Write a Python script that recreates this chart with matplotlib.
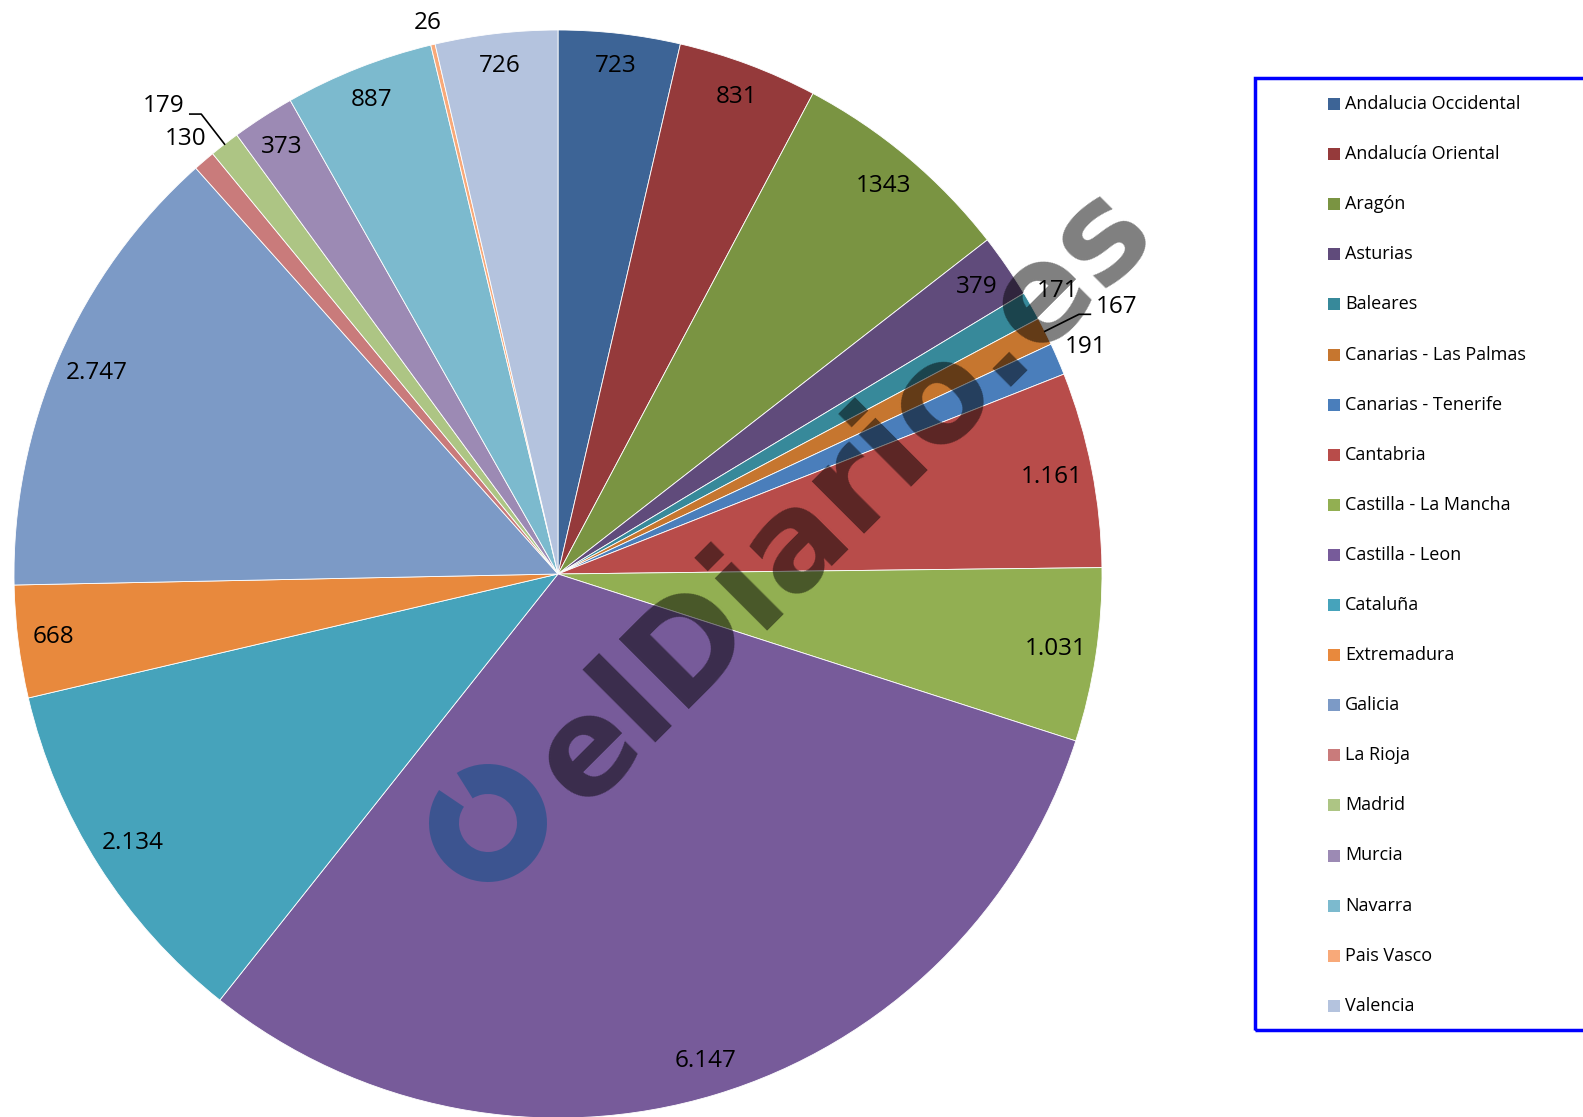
import numpy as np
import matplotlib
matplotlib.use("Agg")
import matplotlib.pyplot as plt
from matplotlib.patches import Rectangle, Wedge

# data
regions = ["Andalucia Occidental", "Andalucía Oriental", "Aragón", "Asturias",
           "Baleares", "Canarias - Las Palmas", "Canarias - Tenerife", "Cantabria",
           "Castilla - La Mancha", "Castilla - Leon", "Cataluña", "Extremadura",
           "Galicia", "La Rioja", "Madrid", "Murcia", "Navarra", "Pais Vasco",
           "Valencia"]
values = [723, 831, 1343, 379, 171, 167, 191, 1161, 1031, 6147, 2134, 668,
          2747, 130, 179, 373, 887, 26, 726]
value_labels = ["723", "831", "1343", "379", "171", "167", "191", "1.161",
                "1.031", "6.147", "2.134", "668", "2.747", "130", "179", "373",
                "887", "26", "726"]
colors = ["#3D6496", "#953A3B", "#7A9442", "#604B7B", "#37899A", "#C6762F",
          "#4A7EBB", "#B84C4A", "#92AF52", "#775B9A", "#46A3BB", "#E8893D",
          "#7C9AC6", "#C97B7B", "#ADC584", "#9C8AB4", "#7CBACE", "#F8A979",
          "#B4C3DE"]

# slices labelled outside the pie, and which of those get a leader line
outside = {"Baleares", "Canarias - Las Palmas", "Canarias - Tenerife",
           "La Rioja", "Madrid", "Pais Vasco"}
leader = {"Canarias - Las Palmas", "Madrid"}

W, H = 1583, 1117
FONT = "Open Sans"
LBL = 17.5
fig = plt.figure(figsize=(W / 100, H / 100), dpi=100)
fig.patch.set_facecolor("white")

# pie axes: center / radius in pixels, image coords
cx, cy, R = 558, 574, 544
ax = fig.add_axes([(cx - R) / W, (H - cy - R) / H, 2 * R / W, 2 * R / H])
wedges, _ = ax.pie(values, colors=colors, startangle=90, counterclock=False,
                   radius=1, wedgeprops=dict(edgecolor="white", linewidth=0.6))
ax.set_xlim(-1, 1)
ax.set_ylim(-1, 1)
ax.axis("off")

for w, name, lab in zip(wedges, regions, value_labels):
    th = np.deg2rad((w.theta1 + w.theta2) / 2)
    c, s = np.cos(th), np.sin(th)
    # rough half-extent of the label box along the radius, in px
    half = abs(c) * 6.5 * len(lab) + abs(s) * 11
    if name in leader:
        k = (1.07 * c, 1.07 * s)
        d = 1 if c > 0 else -1
        end = (k[0] + 0.021 * d, k[1])
        ax.plot([c, k[0], end[0]], [s, k[1], end[1]], color="black",
                lw=1.2, clip_on=False)
        ax.text(end[0] + 0.01 * d, end[1] + 0.014, lab,
                ha="left" if d > 0 else "right", va="center",
                fontsize=LBL, family=FONT, clip_on=False)
    elif name in outside:
        r = 1 + (8 + half) / R
        ax.text(r * c, r * s, lab, ha="center", va="center",
                fontsize=LBL, family=FONT, clip_on=False)
    else:
        r = 1 - (27.5 + 0.4 * half) / R
        ax.text(r * c, r * s, lab, ha="center", va="center",
                fontsize=LBL, family=FONT)

# legend box
fig.add_artist(Rectangle((1255 / W, (H - 1030) / H), (W - 1255 + 20) / W,
                         (1030 - 78) / H, transform=fig.transFigure, fill=False,
                         edgecolor="#0000FF", lw=2.5, clip_on=False))
for i, (name, col) in enumerate(zip(regions, colors)):
    y = 104 + i * 50.1
    fig.add_artist(Rectangle((1328 / W, (H - y - 6) / H), 12 / W, 12 / H,
                             transform=fig.transFigure, facecolor=col,
                             edgecolor="none"))
    fig.text(1345 / W, (H - y) / H, name, ha="left", va="center",
             fontsize=13, family=FONT)

# watermark: blue ring + "elDiario.es"
ring = Wedge((488, H - 823), 59, 146, 122 + 360, width=30,
             transform=None, facecolor="#24528D", edgecolor="none", alpha=0.7)
fig.add_artist(ring)
fig.text(582 / W, 306 / H, "elDiario.es", fontsize=97, weight="bold",
         family="DejaVu Sans", color="black", alpha=0.5, rotation=45,
         rotation_mode="anchor", ha="left", va="baseline")

fig.savefig("out.png", dpi=100, facecolor="white")
